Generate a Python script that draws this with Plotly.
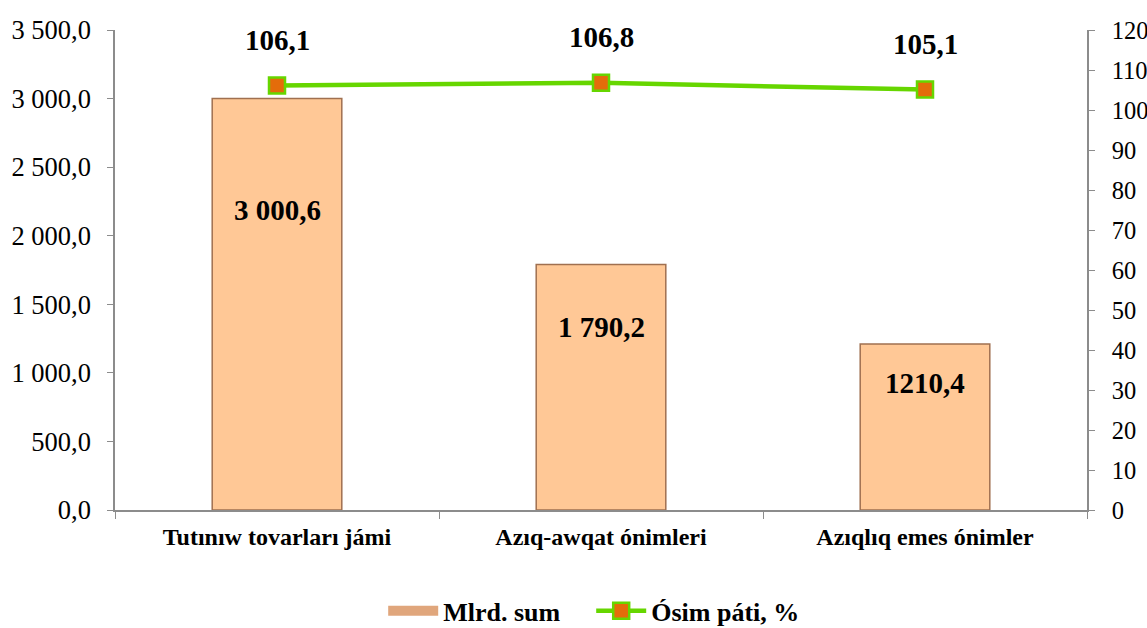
import plotly.graph_objects as go

categories = ["Tutınıw tovarları jámi", "Azıq-awqat ónimleri", "Azıqlıq emes ónimler"]
volume = [3000.6, 1790.2, 1210.4]
volume_labels = ["3 000,6", "1 790,2", "1210,4"]
growth = [106.1, 106.8, 105.1]
growth_labels = ["106,1", "106,8", "105,1"]

FONT = "Liberation Serif, Times New Roman, serif"
BAR_FILL = "#FFC896"
BAR_EDGE = "#A07050"
GREEN = "#66D600"
ORANGE = "#E46C0A"

fig = go.Figure()
fig.add_trace(go.Bar(
    x=categories, y=volume, name="Mlrd. sum", showlegend=False,
    marker=dict(color=BAR_FILL, line=dict(color=BAR_EDGE, width=1.5)),
    width=0.4, yaxis="y",
))
# legend entry mimicking the wide bar swatch
fig.add_trace(go.Scatter(
    x=[None], y=[None], name="<b>Mlrd. sum</b>&nbsp;&nbsp;&nbsp;&nbsp;", mode="lines",
    line=dict(color="#E0A67C", width=11), yaxis="y",
))
fig.add_trace(go.Scatter(
    x=categories, y=growth, name="<b>Ósim páti, %</b>",
    mode="lines+markers", yaxis="y2",
    line=dict(color=GREEN, width=4.5),
    marker=dict(symbol="square", size=16, color=ORANGE,
                line=dict(color=GREEN, width=2.5)),
))

bar_shifts = [-112, -63, -39]
for c, v, t, s in zip(categories, volume, volume_labels, bar_shifts):
    fig.add_annotation(x=c, y=v, xref="x", yref="y", text=f"<b>{t}</b>",
                       showarrow=False, yshift=s, yanchor="middle",
                       font=dict(family=FONT, size=29, color="black"))
for c, v, t in zip(categories, growth, growth_labels):
    fig.add_annotation(x=c, y=v, xref="x", yref="y2", text=f"<b>{t}</b>",
                       showarrow=False, yshift=46, yanchor="middle",
                       font=dict(family=FONT, size=29, color="black"))

axis_line = "#8C8C8C"
fig.update_layout(
    width=1147, height=628,
    margin=dict(l=115, r=60, t=30, b=118, autoexpand=False),
    paper_bgcolor="white", plot_bgcolor="white",
    separators=", ",
    font=dict(family=FONT, color="black"),
    showlegend=True,
    legend=dict(orientation="h", x=0.493, xanchor="center", y=-0.21,
                yanchor="middle", font=dict(family=FONT, size=26),
                traceorder="normal", itemwidth=50),
    xaxis=dict(type="category", showline=True, linecolor=axis_line, linewidth=1.5,
               ticks="outside", tickson="boundaries", ticklen=7, tickcolor=axis_line,
               tickfont=dict(family=FONT, size=24), ticklabelstandoff=4,
               tickvals=categories, ticktext=[f"<b>{c}</b>" for c in categories],
               showgrid=False, automargin=False),
    yaxis=dict(range=[0, 3500], dtick=500, tickformat=",.1f",
               showline=True, linecolor=axis_line, linewidth=1.5,
               ticks="outside", ticklen=6, tickcolor=axis_line, ticklabelstandoff=11,
               tickfont=dict(family=FONT, size=26.5), showgrid=False, zeroline=False,
               automargin=False),
    yaxis2=dict(range=[0, 120], dtick=10, overlaying="y", side="right",
                showline=True, linecolor=axis_line, linewidth=1.5,
                ticks="outside", ticklen=6, tickcolor=axis_line, ticklabelstandoff=12,
                tickfont=dict(family=FONT, size=24.5), showgrid=False, zeroline=False,
                automargin=False),
)

fig.write_html("out.html", config={"displayModeBar": False},
               post_script="document.body.style.margin='0';")
